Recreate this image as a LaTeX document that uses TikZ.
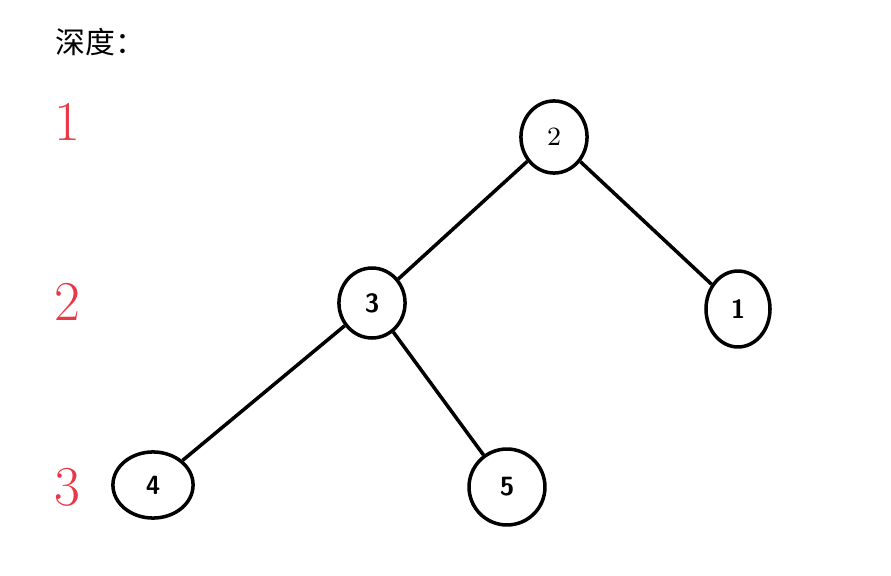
\documentclass[tikz,border=0pt]{standalone}
\usepackage{fontspec}
\newfontfamily\cjk{Noto Sans CJK SC}
\usetikzlibrary{shapes.geometric}
\definecolor{depthred}{RGB}{232,56,72}
\begin{document}
\begin{tikzpicture}[x=0.01cm,y=-0.01cm]
                \tikzstyle{vert}=[ellipse, draw, line width=1pt, inner sep=0pt, font=\sffamily\bfseries\fontsize{7.5}{8}\selectfont]
                \tikzstyle{depth}=[text=depthred, font=\fontsize{16}{18}\selectfont]
                \tikzstyle{edge}=[line width=1pt]

                \useasboundingbox (0,0) rectangle (891,576);

                \node[anchor=west, inner sep=0pt, font=\cjk\fontsize{8.5}{10}\selectfont] (title) at (55,42) {深度：};
                \node[depth] (d1) at (67,122) {1};
                \node[depth] (d2) at (67,302) {2};
                \node[depth] (d3) at (67,487) {3};

                \node[vert, minimum width=18.8pt, minimum height=20.5pt, font=\fontsize{7.5}{8}\selectfont] (n2) at (554,137) {2};
                \node[vert, minimum width=18.8pt, minimum height=19.9pt] (n3) at (372,303) {3};
                \node[vert, minimum width=18.2pt, minimum height=21.6pt] (n1) at (738,309) {1};
                \node[vert, minimum width=22.8pt, minimum height=18.8pt] (n4) at (153,485) {4};
                \node[vert, minimum width=21.6pt, minimum height=21.6pt] (n5) at (507,487) {5};

                \draw[edge] (n2) -- (n1);
                \draw[edge] (n2) -- (n3);
                \draw[edge] (n3) -- (n4);
                \draw[edge] (n3) -- (n5);
            \end{tikzpicture}
\end{document}
